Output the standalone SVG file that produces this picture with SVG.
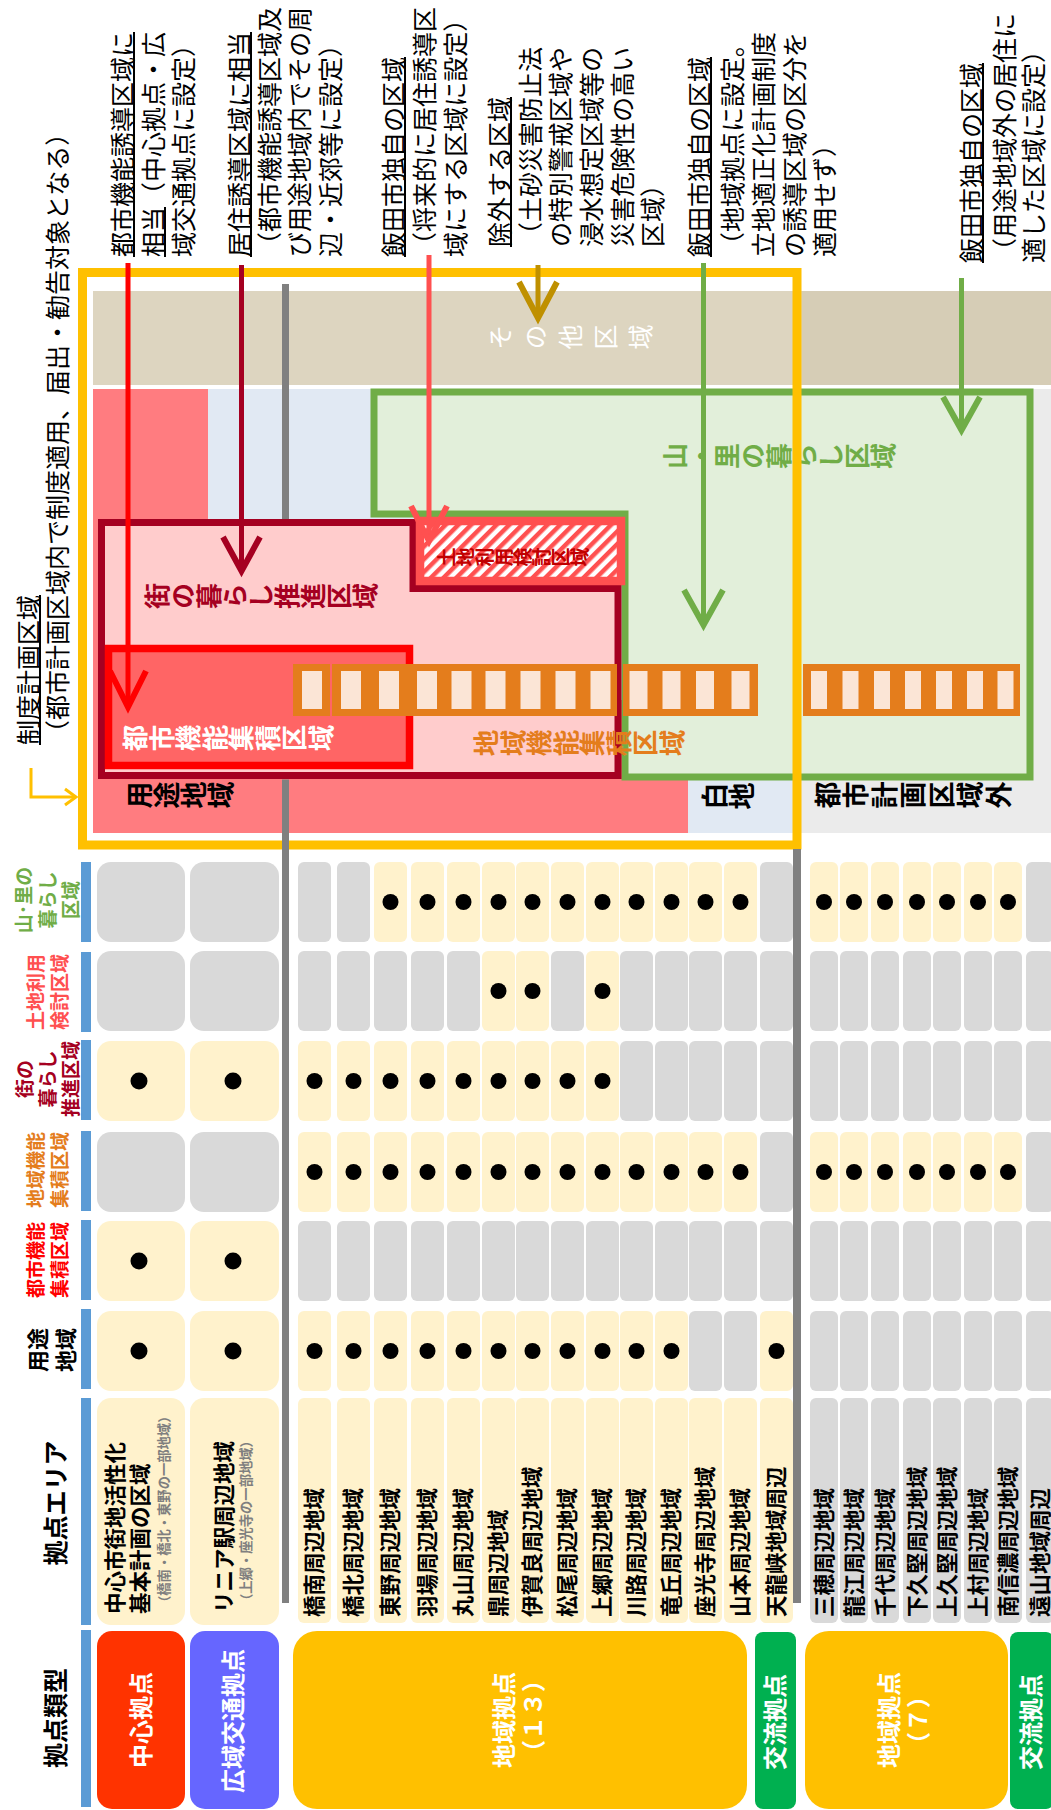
<svg xmlns="http://www.w3.org/2000/svg" width="1051" height="1810" viewBox="0 0 1051 1810">
<defs>
<pattern id="hatch" patternUnits="userSpaceOnUse" width="9" height="9" patternTransform="rotate(45)">
<rect width="9" height="9" fill="#FFFFFF"/>
<rect width="4.5" height="9" fill="#FF5050"/>
</pattern>
<style>
text{font-family:"Noto Sans CJK JP","Noto Sans",sans-serif}
.b{font-weight:700}
.c{dominant-baseline:central}
.m{text-anchor:middle}
.v{writing-mode:vertical-rl}
.n{font-size:25px;fill:#000}
.cb{fill:#FFF2CC}
.cg{fill:#D9D9D9}
.bar{fill:#5B9BD5}
.nm{font-size:21.5px;font-weight:700;fill:#000}
.ob{fill:#E47D1C}
.oi{fill:#FBE5D6}
.arr{fill:none;stroke-width:5}
.tw{fill:#FFFFFF;font-size:24px;font-weight:700}
.lab{font-size:27px;font-weight:700;fill:#000}
</style>
</defs>
<rect width="1051" height="1810" fill="#FFFFFF"/>

<g id="diagram">
<g id="zone-base">
<rect x="208" y="389" width="589" height="444" fill="#E1E9F3"/>
<rect x="93" y="389" width="115" height="444" fill="#FF7C80"/>
<rect x="93" y="700" width="595" height="133" fill="#FF7C80"/>
<rect x="797" y="389" width="254" height="444" fill="#EBEBEB"/>
</g>
<g id="zone-other">
<rect x="93" y="291" width="958" height="94" fill="#DDD5C0"/>
<rect x="802" y="291" width="249" height="94" fill="#D6CDB6"/>
<text class="v" font-size="25" fill="#FFFFFF" letter-spacing="10" transform="translate(488,337) rotate(-90)">その他区域</text>
</g>
<rect x="282" y="284" width="7" height="240" fill="#808080"/>
<g id="zone-yamasato">
<path d="M374,392 H1030 V777 H625 V514 H374 Z" fill="#E2EFDA" stroke="#70AD47" stroke-width="7"/>
<text class="v b" font-size="26" fill="#70AD47" transform="translate(662,456) rotate(-90)">山・里の暮らし区域</text>
</g>
<g id="zone-machi">
<path d="M101.5,522.5 H413 V588.5 H618 V775.5 H101.5 Z" fill="#FFCCCC" stroke="#A50021" stroke-width="7"/>
<text class="v b" font-size="26" fill="#A50021" transform="translate(144,596) rotate(-90)">街の暮らし推進区域</text>
</g>
<g id="zone-tochi">
<rect x="420" y="521" width="201" height="60" fill="url(#hatch)" stroke="#FF5050" stroke-width="8.5"/>
<text class="v b" font-size="19" fill="#C00000" transform="translate(437,557) rotate(-90)">土地利用検討区域</text>
</g>
<g id="zone-toshi">
<rect x="108.5" y="648.5" width="301" height="117" fill="#FF6565" stroke="#FF0000" stroke-width="7.5"/>
<text class="v b" font-size="26.5" fill="#FFFFFF" transform="translate(122,738) rotate(-90)">都市機能集積区域</text>
</g>
<g id="zone-chiiki">
<rect class="ob" x="293" y="664" width="37" height="52"/><rect class="oi" x="302" y="671" width="20" height="38"/>
<rect class="ob" x="332" y="664" width="38" height="52"/><rect class="oi" x="341" y="671" width="20" height="38"/>
<rect class="ob" x="370" y="664" width="38" height="52"/><rect class="oi" x="379" y="671" width="20" height="38"/>
<rect class="ob" x="408" y="664" width="36" height="52"/><rect class="oi" x="417" y="671" width="20" height="38"/>
<rect class="ob" x="444" y="664" width="34" height="52"/><rect class="oi" x="451.5" y="671" width="20" height="38"/>
<rect class="ob" x="478" y="664" width="35" height="52"/><rect class="oi" x="485.5" y="671" width="20" height="38"/>
<rect class="ob" x="513" y="664" width="35" height="52"/><rect class="oi" x="520.5" y="671" width="20" height="38"/>
<rect class="ob" x="548" y="664" width="35" height="52"/><rect class="oi" x="555.5" y="671" width="20" height="38"/>
<rect class="ob" x="583" y="664" width="34" height="52"/><rect class="oi" x="590.5" y="671" width="20" height="38"/>
<rect class="ob" x="623" y="664" width="33" height="52"/><rect class="oi" x="629.5" y="671" width="18" height="38"/>
<rect class="ob" x="656" y="664" width="34" height="52"/><rect class="oi" x="662.5" y="671" width="18" height="38"/>
<rect class="ob" x="690" y="664" width="33" height="52"/><rect class="oi" x="696" y="671" width="18" height="38"/>
<rect class="ob" x="723" y="664" width="35" height="52"/><rect class="oi" x="731.5" y="671" width="18" height="38"/>
<rect class="ob" x="803" y="664" width="31" height="52"/><rect class="oi" x="811" y="671" width="16" height="38"/>
<rect class="ob" x="834" y="664" width="31" height="52"/><rect class="oi" x="842.5" y="671" width="16" height="38"/>
<rect class="ob" x="865" y="664" width="31" height="52"/><rect class="oi" x="874" y="671" width="16" height="38"/>
<rect class="ob" x="896" y="664" width="31" height="52"/><rect class="oi" x="905" y="671" width="16" height="38"/>
<rect class="ob" x="927" y="664" width="31" height="52"/><rect class="oi" x="936" y="671" width="16" height="38"/>
<rect class="ob" x="958" y="664" width="31" height="52"/><rect class="oi" x="967" y="671" width="16" height="38"/>
<rect class="ob" x="989" y="664" width="31" height="52"/><rect class="oi" x="997.5" y="671" width="16" height="38"/>
<text class="v b" font-size="26.5" fill="#E47D1C" transform="translate(473,743) rotate(-90)">地域機能集積区域</text>
</g>
<g id="zone-labels">
<text class="v lab" transform="translate(126,795) rotate(-90)">用途地域</text>
<text class="v lab" transform="translate(701,796) rotate(-90)">白地</text>
<text class="v lab" letter-spacing="1.5" transform="translate(814,795) rotate(-90)">都市計画区域外</text>
</g>
<g id="planning-frame">
<rect x="82.5" y="272.5" width="714.5" height="572.5" fill="none" stroke="#FFC000" stroke-width="9"/>
</g>
</g>

<g id="notes" class="n">
<g id="note-frame">
<text class="c" transform="translate(27,745) rotate(-90)">制度計画区域</text>
<rect x="39" y="595" width="2" height="150"/>
<text class="c" transform="translate(56,745) rotate(-90)">（都市計画区域内で制度適用、届出・勧告対象となる）</text>
</g>
<g id="note-toshi">
<text class="c" transform="translate(121,257) rotate(-90)">都市機能誘導区域に</text>
<rect x="133" y="32" width="2" height="225"/>
<text class="c" transform="translate(152,257) rotate(-90)">相当（中心拠点・広</text>
<rect x="164" y="207" width="2" height="50"/>
<text class="c" transform="translate(182,257) rotate(-90)">域交通拠点に設定）</text>
</g>
<g id="note-kyoju">
<text class="c" transform="translate(238,257) rotate(-90)">居住誘導区域に相当</text>
<rect x="250" y="32" width="2" height="225"/>
<text class="c" transform="translate(268,257) rotate(-90)">（都市機能誘導区域及</text>
<text class="c" transform="translate(298,257) rotate(-90)">び用途地域内でその周</text>
<text class="c" transform="translate(329,257) rotate(-90)">辺・近郊等に設定）</text>
</g>
<g id="note-iida1">
<text class="c" transform="translate(392,257) rotate(-90)">飯田市独自の区域</text>
<rect x="404" y="57" width="2" height="200"/>
<text class="c" transform="translate(423,257) rotate(-90)">（将来的に居住誘導区</text>
<text class="c" transform="translate(454,257) rotate(-90)">域にする区域に設定）</text>
</g>
<g id="note-jogai">
<text class="c" transform="translate(498,247) rotate(-90)">除外する区域</text>
<rect x="510" y="97" width="2" height="150"/>
<text class="c" transform="translate(529,247) rotate(-90)">（土砂災害防止法</text>
<text class="c" transform="translate(559,247) rotate(-90)">の特別警戒区域や</text>
<text class="c" transform="translate(590,247) rotate(-90)">浸水想定区域等の</text>
<text class="c" transform="translate(621,247) rotate(-90)">災害危険性の高い</text>
<text class="c" transform="translate(651,247) rotate(-90)">区域）</text>
</g>
<g id="note-iida2">
<text class="c" transform="translate(698,257) rotate(-90)">飯田市独自の区域</text>
<rect x="710" y="57" width="2" height="200"/>
<text class="c" transform="translate(731,257) rotate(-90)">（地域拠点に設定。</text>
<text class="c" transform="translate(762,257) rotate(-90)">立地適正化計画制度</text>
<text class="c" transform="translate(793,257) rotate(-90)">の誘導区域の区分を</text>
<text class="c" transform="translate(823,257) rotate(-90)">適用せず）</text>
</g>
<g id="note-iida3">
<text class="c" transform="translate(970,263) rotate(-90)">飯田市独自の区域</text>
<rect x="982" y="63" width="2" height="200"/>
<text class="c" transform="translate(1003,263) rotate(-90)">（用途地域外の居住に</text>
<text class="c" transform="translate(1032,263) rotate(-90)">適した区域に設定）</text>
</g>
</g>

<g id="connectors" class="arr">
<polyline points="31,768 31,797 74,797" stroke="#FFC000" stroke-width="3"/>
<polyline points="65,789 76,797 65,805" stroke="#FFC000" stroke-width="3"/>
<line x1="128" y1="263" x2="128" y2="706" stroke="#FF0000"/>
<polyline points="110,671 128,707 146,671" stroke="#FF0000" stroke-width="6"/>
<line x1="241.5" y1="265" x2="241.5" y2="570" stroke="#A50021"/>
<polyline points="223,537 241.5,571 260,537" stroke="#A50021" stroke-width="6"/>
<line x1="429" y1="255" x2="429" y2="540" stroke="#FF5050"/>
<polyline points="411,506 429,541 447,506" stroke="#FF5050" stroke-width="6"/>
<line x1="538" y1="265" x2="538" y2="317" stroke="#BF9000"/>
<polyline points="519,282 538,318 557,282" stroke="#BF9000" stroke-width="6"/>
<line x1="703.5" y1="263" x2="703.5" y2="624" stroke="#70AD47"/>
<polyline points="684,590 703.5,625 723,590" stroke="#70AD47" stroke-width="6"/>
<line x1="961.5" y1="278" x2="961.5" y2="429" stroke="#70AD47"/>
<polyline points="943,397 961.5,430 980,397" stroke="#70AD47" stroke-width="6"/>
</g>

<g id="table-lines">
<rect x="282" y="779.5" width="7" height="823.5" fill="#808080"/>
<rect x="793" y="849" width="8" height="754" fill="#808080"/>
</g>

<g id="table-header">
<rect class="bar" x="81" y="862" width="10" height="80"/>
<rect class="bar" x="81" y="952" width="10" height="80"/>
<rect class="bar" x="81" y="1040" width="10" height="80"/>
<rect class="bar" x="81" y="1131" width="10" height="80"/>
<rect class="bar" x="81" y="1220" width="10" height="80"/>
<rect class="bar" x="81" y="1309" width="10" height="80"/>
<rect class="bar" x="81" y="1398" width="10" height="227"/>
<rect class="bar" x="81" y="1630" width="10" height="177"/>
<text class="b c m" font-size="19" fill="#70AD47" transform="translate(22,900) rotate(-90)">山･里の</text>
<text class="b c m" font-size="19" fill="#70AD47" transform="translate(46,900) rotate(-90)">暮らし</text>
<text class="b c m" font-size="19" fill="#70AD47" transform="translate(69,900) rotate(-90)">区域</text>
<text class="b c m" font-size="19" fill="#FF5050" transform="translate(34,992) rotate(-90)">土地利用</text>
<text class="b c m" font-size="19" fill="#FF5050" transform="translate(58,992) rotate(-90)">検討区域</text>
<text class="b c m" font-size="19" fill="#A50021" transform="translate(23,1079) rotate(-90)">街の</text>
<text class="b c m" font-size="19" fill="#A50021" transform="translate(46,1079) rotate(-90)">暮らし</text>
<text class="b c m" font-size="19" fill="#A50021" transform="translate(69,1079) rotate(-90)">推進区域</text>
<text class="b c m" font-size="19" fill="#E47D1C" transform="translate(34,1170) rotate(-90)">地域機能</text>
<text class="b c m" font-size="19" fill="#E47D1C" transform="translate(58,1170) rotate(-90)">集積区域</text>
<text class="b c m" font-size="19" fill="#FF0000" transform="translate(34,1260) rotate(-90)">都市機能</text>
<text class="b c m" font-size="19" fill="#FF0000" transform="translate(58,1260) rotate(-90)">集積区域</text>
<text class="b c m" font-size="22" fill="#000" transform="translate(36,1350) rotate(-90)">用途</text>
<text class="b c m" font-size="22" fill="#000" transform="translate(64,1350) rotate(-90)">地域</text>
<text class="b c m" font-size="25" fill="#000" transform="translate(54,1503) rotate(-90)">拠点エリア</text>
<text class="b c m" font-size="25" fill="#000" transform="translate(54,1718) rotate(-90)">拠点類型</text>
</g>

<g id="row-chushin">
<rect class="cg" x="97" y="862" width="88" height="80" rx="14"/>
<rect class="cg" x="97" y="951" width="88" height="80" rx="14"/>
<rect class="cb" x="97" y="1041" width="88" height="80" rx="14"/><circle cx="139" cy="1081" r="8.5"/>
<rect class="cg" x="97" y="1132" width="88" height="80" rx="14"/>
<rect class="cb" x="97" y="1221" width="88" height="80" rx="14"/><circle cx="139" cy="1261" r="8.5"/>
<rect class="cb" x="97" y="1311" width="88" height="80" rx="14"/><circle cx="139" cy="1351" r="8.5"/>
<rect class="cb" x="97" y="1398" width="88" height="227" rx="14"/>
<text class="b c" font-size="21.5" transform="translate(113,1614) rotate(-90)">中心市街地活性化</text>
<text class="b c" font-size="21.5" transform="translate(138,1614) rotate(-90)">基本計画の区域</text>
<text class="b c" font-size="13.3" fill="#7F7F7F" transform="translate(163.5,1609) rotate(-90)">（橋南・橋北・東野の一部地域）</text>
<rect x="97" y="1631" width="88" height="178" rx="15" fill="#FF3300"/>
<text class="tw c m" transform="translate(139,1720) rotate(-90)">中心拠点</text>
</g>
<g id="row-koiki">
<rect class="cg" x="190" y="862" width="89" height="80" rx="14"/>
<rect class="cg" x="190" y="951" width="89" height="80" rx="14"/>
<rect class="cb" x="190" y="1041" width="89" height="80" rx="14"/><circle cx="233" cy="1081" r="8.5"/>
<rect class="cg" x="190" y="1132" width="89" height="80" rx="14"/>
<rect class="cb" x="190" y="1221" width="89" height="80" rx="14"/><circle cx="233" cy="1261" r="8.5"/>
<rect class="cb" x="190" y="1311" width="89" height="80" rx="14"/><circle cx="233" cy="1351" r="8.5"/>
<rect class="cb" x="190" y="1398" width="89" height="227" rx="14"/>
<text class="b c" font-size="21.5" transform="translate(222,1613) rotate(-90)">リニア駅周辺地域</text>
<text class="b c" font-size="13.3" fill="#7F7F7F" transform="translate(245,1607) rotate(-90)">（上郷・座光寺の一部地域）</text>
<rect x="190" y="1631" width="89" height="178" rx="15" fill="#6666FF"/>
<text class="tw c m" transform="translate(231,1721) rotate(-90)">広域交通拠点</text>
</g>

<g id="row-kyonan">
<rect class="cg" x="298" y="862" width="33" height="80" rx="6"/>
<rect class="cg" x="298" y="951" width="33" height="80" rx="6"/>
<rect class="cb" x="298" y="1041" width="33" height="80" rx="6"/><circle cx="314.5" cy="1081" r="8"/>
<rect class="cb" x="298" y="1132" width="33" height="80" rx="6"/><circle cx="314.5" cy="1172" r="8"/>
<rect class="cg" x="298" y="1221" width="33" height="80" rx="6"/>
<rect class="cb" x="298" y="1311" width="33" height="80" rx="6"/><circle cx="314.5" cy="1351" r="8"/>
<rect class="cb" x="298" y="1398" width="33" height="225" rx="6"/>
<text class="nm c" transform="translate(312.5,1617) rotate(-90)">橋南周辺地域</text>
</g>
<g id="row-kyohoku">
<rect class="cg" x="337" y="862" width="33" height="80" rx="6"/>
<rect class="cg" x="337" y="951" width="33" height="80" rx="6"/>
<rect class="cb" x="337" y="1041" width="33" height="80" rx="6"/><circle cx="353.5" cy="1081" r="8"/>
<rect class="cb" x="337" y="1132" width="33" height="80" rx="6"/><circle cx="353.5" cy="1172" r="8"/>
<rect class="cg" x="337" y="1221" width="33" height="80" rx="6"/>
<rect class="cb" x="337" y="1311" width="33" height="80" rx="6"/><circle cx="353.5" cy="1351" r="8"/>
<rect class="cb" x="337" y="1398" width="33" height="225" rx="6"/>
<text class="nm c" transform="translate(351.5,1617) rotate(-90)">橋北周辺地域</text>
</g>
<g id="row-higashino">
<rect class="cb" x="374" y="862" width="33" height="80" rx="6"/><circle cx="390.5" cy="902" r="8"/>
<rect class="cg" x="374" y="951" width="33" height="80" rx="6"/>
<rect class="cb" x="374" y="1041" width="33" height="80" rx="6"/><circle cx="390.5" cy="1081" r="8"/>
<rect class="cb" x="374" y="1132" width="33" height="80" rx="6"/><circle cx="390.5" cy="1172" r="8"/>
<rect class="cg" x="374" y="1221" width="33" height="80" rx="6"/>
<rect class="cb" x="374" y="1311" width="33" height="80" rx="6"/><circle cx="390.5" cy="1351" r="8"/>
<rect class="cb" x="374" y="1398" width="33" height="225" rx="6"/>
<text class="nm c" transform="translate(388.5,1617) rotate(-90)">東野周辺地域</text>
</g>
<g id="row-haba">
<rect class="cb" x="411" y="862" width="33" height="80" rx="6"/><circle cx="427.5" cy="902" r="8"/>
<rect class="cg" x="411" y="951" width="33" height="80" rx="6"/>
<rect class="cb" x="411" y="1041" width="33" height="80" rx="6"/><circle cx="427.5" cy="1081" r="8"/>
<rect class="cb" x="411" y="1132" width="33" height="80" rx="6"/><circle cx="427.5" cy="1172" r="8"/>
<rect class="cg" x="411" y="1221" width="33" height="80" rx="6"/>
<rect class="cb" x="411" y="1311" width="33" height="80" rx="6"/><circle cx="427.5" cy="1351" r="8"/>
<rect class="cb" x="411" y="1398" width="33" height="225" rx="6"/>
<text class="nm c" transform="translate(425.5,1617) rotate(-90)">羽場周辺地域</text>
</g>
<g id="row-maruyama">
<rect class="cb" x="447" y="862" width="33" height="80" rx="6"/><circle cx="463.5" cy="902" r="8"/>
<rect class="cg" x="447" y="951" width="33" height="80" rx="6"/>
<rect class="cb" x="447" y="1041" width="33" height="80" rx="6"/><circle cx="463.5" cy="1081" r="8"/>
<rect class="cb" x="447" y="1132" width="33" height="80" rx="6"/><circle cx="463.5" cy="1172" r="8"/>
<rect class="cg" x="447" y="1221" width="33" height="80" rx="6"/>
<rect class="cb" x="447" y="1311" width="33" height="80" rx="6"/><circle cx="463.5" cy="1351" r="8"/>
<rect class="cb" x="447" y="1398" width="33" height="225" rx="6"/>
<text class="nm c" transform="translate(461.5,1617) rotate(-90)">丸山周辺地域</text>
</g>
<g id="row-kanae">
<rect class="cb" x="482" y="862" width="33" height="80" rx="6"/><circle cx="498.5" cy="902" r="8"/>
<rect class="cb" x="482" y="951" width="33" height="80" rx="6"/><circle cx="498.5" cy="991" r="8"/>
<rect class="cb" x="482" y="1041" width="33" height="80" rx="6"/><circle cx="498.5" cy="1081" r="8"/>
<rect class="cb" x="482" y="1132" width="33" height="80" rx="6"/><circle cx="498.5" cy="1172" r="8"/>
<rect class="cg" x="482" y="1221" width="33" height="80" rx="6"/>
<rect class="cb" x="482" y="1311" width="33" height="80" rx="6"/><circle cx="498.5" cy="1351" r="8"/>
<rect class="cb" x="482" y="1398" width="33" height="225" rx="6"/>
<text class="nm c" transform="translate(496.5,1617) rotate(-90)">鼎周辺地域</text>
</g>
<g id="row-igara">
<rect class="cb" x="516" y="862" width="33" height="80" rx="6"/><circle cx="532.5" cy="902" r="8"/>
<rect class="cb" x="516" y="951" width="33" height="80" rx="6"/><circle cx="532.5" cy="991" r="8"/>
<rect class="cb" x="516" y="1041" width="33" height="80" rx="6"/><circle cx="532.5" cy="1081" r="8"/>
<rect class="cb" x="516" y="1132" width="33" height="80" rx="6"/><circle cx="532.5" cy="1172" r="8"/>
<rect class="cg" x="516" y="1221" width="33" height="80" rx="6"/>
<rect class="cb" x="516" y="1311" width="33" height="80" rx="6"/><circle cx="532.5" cy="1351" r="8"/>
<rect class="cb" x="516" y="1398" width="33" height="225" rx="6"/>
<text class="nm c" transform="translate(530.5,1617) rotate(-90)">伊賀良周辺地域</text>
</g>
<g id="row-matsuo">
<rect class="cb" x="551" y="862" width="33" height="80" rx="6"/><circle cx="567.5" cy="902" r="8"/>
<rect class="cg" x="551" y="951" width="33" height="80" rx="6"/>
<rect class="cb" x="551" y="1041" width="33" height="80" rx="6"/><circle cx="567.5" cy="1081" r="8"/>
<rect class="cb" x="551" y="1132" width="33" height="80" rx="6"/><circle cx="567.5" cy="1172" r="8"/>
<rect class="cg" x="551" y="1221" width="33" height="80" rx="6"/>
<rect class="cb" x="551" y="1311" width="33" height="80" rx="6"/><circle cx="567.5" cy="1351" r="8"/>
<rect class="cb" x="551" y="1398" width="33" height="225" rx="6"/>
<text class="nm c" transform="translate(565.5,1617) rotate(-90)">松尾周辺地域</text>
</g>
<g id="row-kamisato">
<rect class="cb" x="586" y="862" width="33" height="80" rx="6"/><circle cx="602.5" cy="902" r="8"/>
<rect class="cb" x="586" y="951" width="33" height="80" rx="6"/><circle cx="602.5" cy="991" r="8"/>
<rect class="cb" x="586" y="1041" width="33" height="80" rx="6"/><circle cx="602.5" cy="1081" r="8"/>
<rect class="cb" x="586" y="1132" width="33" height="80" rx="6"/><circle cx="602.5" cy="1172" r="8"/>
<rect class="cg" x="586" y="1221" width="33" height="80" rx="6"/>
<rect class="cb" x="586" y="1311" width="33" height="80" rx="6"/><circle cx="602.5" cy="1351" r="8"/>
<rect class="cb" x="586" y="1398" width="33" height="225" rx="6"/>
<text class="nm c" transform="translate(600.5,1617) rotate(-90)">上郷周辺地域</text>
</g>
<g id="row-kawaji">
<rect class="cb" x="620" y="862" width="33" height="80" rx="6"/><circle cx="636.5" cy="902" r="8"/>
<rect class="cg" x="620" y="951" width="33" height="80" rx="6"/>
<rect class="cg" x="620" y="1041" width="33" height="80" rx="6"/>
<rect class="cb" x="620" y="1132" width="33" height="80" rx="6"/><circle cx="636.5" cy="1172" r="8"/>
<rect class="cg" x="620" y="1221" width="33" height="80" rx="6"/>
<rect class="cb" x="620" y="1311" width="33" height="80" rx="6"/><circle cx="636.5" cy="1351" r="8"/>
<rect class="cb" x="620" y="1398" width="33" height="225" rx="6"/>
<text class="nm c" transform="translate(634.5,1617) rotate(-90)">川路周辺地域</text>
</g>
<g id="row-tatsuoka">
<rect class="cb" x="655" y="862" width="33" height="80" rx="6"/><circle cx="671.5" cy="902" r="8"/>
<rect class="cg" x="655" y="951" width="33" height="80" rx="6"/>
<rect class="cg" x="655" y="1041" width="33" height="80" rx="6"/>
<rect class="cb" x="655" y="1132" width="33" height="80" rx="6"/><circle cx="671.5" cy="1172" r="8"/>
<rect class="cg" x="655" y="1221" width="33" height="80" rx="6"/>
<rect class="cb" x="655" y="1311" width="33" height="80" rx="6"/><circle cx="671.5" cy="1351" r="8"/>
<rect class="cb" x="655" y="1398" width="33" height="225" rx="6"/>
<text class="nm c" transform="translate(669.5,1617) rotate(-90)">竜丘周辺地域</text>
</g>
<g id="row-zakoji">
<rect class="cb" x="689" y="862" width="33" height="80" rx="6"/><circle cx="705.5" cy="902" r="8"/>
<rect class="cg" x="689" y="951" width="33" height="80" rx="6"/>
<rect class="cg" x="689" y="1041" width="33" height="80" rx="6"/>
<rect class="cb" x="689" y="1132" width="33" height="80" rx="6"/><circle cx="705.5" cy="1172" r="8"/>
<rect class="cg" x="689" y="1221" width="33" height="80" rx="6"/>
<rect class="cg" x="689" y="1311" width="33" height="80" rx="6"/>
<rect class="cb" x="689" y="1398" width="33" height="225" rx="6"/>
<text class="nm c" transform="translate(703.5,1617) rotate(-90)">座光寺周辺地域</text>
</g>
<g id="row-yamamoto">
<rect class="cb" x="724" y="862" width="33" height="80" rx="6"/><circle cx="740.5" cy="902" r="8"/>
<rect class="cg" x="724" y="951" width="33" height="80" rx="6"/>
<rect class="cg" x="724" y="1041" width="33" height="80" rx="6"/>
<rect class="cb" x="724" y="1132" width="33" height="80" rx="6"/><circle cx="740.5" cy="1172" r="8"/>
<rect class="cg" x="724" y="1221" width="33" height="80" rx="6"/>
<rect class="cg" x="724" y="1311" width="33" height="80" rx="6"/>
<rect class="cb" x="724" y="1398" width="33" height="225" rx="6"/>
<text class="nm c" transform="translate(738.5,1617) rotate(-90)">山本周辺地域</text>
</g>
<g id="type-chiiki13">
<rect x="293" y="1631" width="454" height="178" rx="24" fill="#FFC000"/>
<text class="tw c m" transform="translate(502,1720) rotate(-90)">地域拠点</text>
<text class="tw c m" transform="translate(531,1716) rotate(-90)">（１３）</text>
</g>
<g id="row-tenryukyo">
<rect class="cg" x="760" y="862" width="33" height="80" rx="6"/>
<rect class="cg" x="760" y="951" width="33" height="80" rx="6"/>
<rect class="cg" x="760" y="1041" width="33" height="80" rx="6"/>
<rect class="cg" x="760" y="1132" width="33" height="80" rx="6"/>
<rect class="cg" x="760" y="1221" width="33" height="80" rx="6"/>
<rect class="cb" x="760" y="1311" width="33" height="80" rx="6"/><circle cx="776.5" cy="1351" r="8"/>
<rect class="cb" x="760" y="1398" width="33" height="225" rx="6"/>
<text class="nm c" transform="translate(774.5,1617) rotate(-90)">天龍峡地域周辺</text>
<rect x="755" y="1632" width="41" height="177" rx="8" fill="#00B050"/>
<text class="tw c m" transform="translate(773,1722) rotate(-90)">交流拠点</text>
</g>

<g id="row-miho">
<rect class="cb" x="810" y="862" width="28" height="80" rx="6"/><circle cx="824" cy="902" r="8"/>
<rect class="cg" x="810" y="951" width="28" height="80" rx="6"/>
<rect class="cg" x="810" y="1041" width="28" height="80" rx="6"/>
<rect class="cb" x="810" y="1132" width="28" height="80" rx="6"/><circle cx="824" cy="1172" r="8"/>
<rect class="cg" x="810" y="1221" width="28" height="80" rx="6"/>
<rect class="cg" x="810" y="1311" width="28" height="80" rx="6"/>
<rect class="cg" x="810" y="1398" width="28" height="225" rx="6"/>
<text class="nm c" transform="translate(822,1617) rotate(-90)">三穂周辺地域</text>
</g>
<g id="row-tatsue">
<rect class="cb" x="840" y="862" width="28" height="80" rx="6"/><circle cx="854" cy="902" r="8"/>
<rect class="cg" x="840" y="951" width="28" height="80" rx="6"/>
<rect class="cg" x="840" y="1041" width="28" height="80" rx="6"/>
<rect class="cb" x="840" y="1132" width="28" height="80" rx="6"/><circle cx="854" cy="1172" r="8"/>
<rect class="cg" x="840" y="1221" width="28" height="80" rx="6"/>
<rect class="cg" x="840" y="1311" width="28" height="80" rx="6"/>
<rect class="cg" x="840" y="1398" width="28" height="225" rx="6"/>
<text class="nm c" transform="translate(852,1617) rotate(-90)">龍江周辺地域</text>
</g>
<g id="row-chiyo">
<rect class="cb" x="871" y="862" width="28" height="80" rx="6"/><circle cx="885" cy="902" r="8"/>
<rect class="cg" x="871" y="951" width="28" height="80" rx="6"/>
<rect class="cg" x="871" y="1041" width="28" height="80" rx="6"/>
<rect class="cb" x="871" y="1132" width="28" height="80" rx="6"/><circle cx="885" cy="1172" r="8"/>
<rect class="cg" x="871" y="1221" width="28" height="80" rx="6"/>
<rect class="cg" x="871" y="1311" width="28" height="80" rx="6"/>
<rect class="cg" x="871" y="1398" width="28" height="225" rx="6"/>
<text class="nm c" transform="translate(883,1617) rotate(-90)">千代周辺地域</text>
</g>
<g id="row-shimohisakata">
<rect class="cb" x="903" y="862" width="28" height="80" rx="6"/><circle cx="917" cy="902" r="8"/>
<rect class="cg" x="903" y="951" width="28" height="80" rx="6"/>
<rect class="cg" x="903" y="1041" width="28" height="80" rx="6"/>
<rect class="cb" x="903" y="1132" width="28" height="80" rx="6"/><circle cx="917" cy="1172" r="8"/>
<rect class="cg" x="903" y="1221" width="28" height="80" rx="6"/>
<rect class="cg" x="903" y="1311" width="28" height="80" rx="6"/>
<rect class="cg" x="903" y="1398" width="28" height="225" rx="6"/>
<text class="nm c" transform="translate(915,1617) rotate(-90)">下久堅周辺地域</text>
</g>
<g id="row-kamihisakata">
<rect class="cb" x="933" y="862" width="28" height="80" rx="6"/><circle cx="947" cy="902" r="8"/>
<rect class="cg" x="933" y="951" width="28" height="80" rx="6"/>
<rect class="cg" x="933" y="1041" width="28" height="80" rx="6"/>
<rect class="cb" x="933" y="1132" width="28" height="80" rx="6"/><circle cx="947" cy="1172" r="8"/>
<rect class="cg" x="933" y="1221" width="28" height="80" rx="6"/>
<rect class="cg" x="933" y="1311" width="28" height="80" rx="6"/>
<rect class="cg" x="933" y="1398" width="28" height="225" rx="6"/>
<text class="nm c" transform="translate(945,1617) rotate(-90)">上久堅周辺地域</text>
</g>
<g id="row-kamimura">
<rect class="cb" x="964" y="862" width="28" height="80" rx="6"/><circle cx="978" cy="902" r="8"/>
<rect class="cg" x="964" y="951" width="28" height="80" rx="6"/>
<rect class="cg" x="964" y="1041" width="28" height="80" rx="6"/>
<rect class="cb" x="964" y="1132" width="28" height="80" rx="6"/><circle cx="978" cy="1172" r="8"/>
<rect class="cg" x="964" y="1221" width="28" height="80" rx="6"/>
<rect class="cg" x="964" y="1311" width="28" height="80" rx="6"/>
<rect class="cg" x="964" y="1398" width="28" height="225" rx="6"/>
<text class="nm c" transform="translate(976,1617) rotate(-90)">上村周辺地域</text>
</g>
<g id="row-minamishinano">
<rect class="cb" x="994" y="862" width="28" height="80" rx="6"/><circle cx="1008" cy="902" r="8"/>
<rect class="cg" x="994" y="951" width="28" height="80" rx="6"/>
<rect class="cg" x="994" y="1041" width="28" height="80" rx="6"/>
<rect class="cb" x="994" y="1132" width="28" height="80" rx="6"/><circle cx="1008" cy="1172" r="8"/>
<rect class="cg" x="994" y="1221" width="28" height="80" rx="6"/>
<rect class="cg" x="994" y="1311" width="28" height="80" rx="6"/>
<rect class="cg" x="994" y="1398" width="28" height="225" rx="6"/>
<text class="nm c" transform="translate(1006,1617) rotate(-90)">南信濃周辺地域</text>
</g>
<g id="type-chiiki7">
<rect x="805" y="1631" width="203" height="178" rx="24" fill="#FFC000"/>
<text class="tw c m" transform="translate(887,1720) rotate(-90)">地域拠点</text>
<text class="tw c m" transform="translate(916,1720) rotate(-90)">（７）</text>
</g>
<g id="row-toyama">
<rect class="cg" x="1026" y="862" width="28" height="80" rx="6"/>
<rect class="cg" x="1026" y="951" width="28" height="80" rx="6"/>
<rect class="cg" x="1026" y="1041" width="28" height="80" rx="6"/>
<rect class="cg" x="1026" y="1132" width="28" height="80" rx="6"/>
<rect class="cg" x="1026" y="1221" width="28" height="80" rx="6"/>
<rect class="cg" x="1026" y="1311" width="28" height="80" rx="6"/>
<rect class="cg" x="1026" y="1398" width="28" height="225" rx="6"/>
<text class="nm c" transform="translate(1038,1617) rotate(-90)">遠山地域周辺</text>
<rect x="1010" y="1632" width="44" height="177" rx="8" fill="#00B050"/>
<text class="tw c m" transform="translate(1029,1722) rotate(-90)">交流拠点</text>
</g>
</svg>
